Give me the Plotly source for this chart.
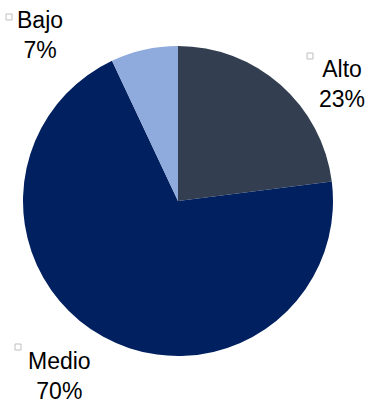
import plotly.graph_objects as go

labels = ["Alto", "Medio", "Bajo"]
values = [23, 70, 7]
colors = ["#333F50", "#002060", "#8FAADC"]

W, H = 366, 403
cx, cy, r = 178, 201, 155

fig = go.Figure(go.Pie(
    labels=labels, values=values, sort=False, direction="clockwise", rotation=0,
    marker=dict(colors=colors, line=dict(width=0)),
    textinfo="none", hoverinfo="label+percent",
    domain=dict(x=[(cx - r) / W, (cx + r) / W], y=[(H - cy - r) / H, (H - cy + r) / H]),
    showlegend=False,
))

# label block centers in pixels
label_pos = {"Bajo": (40, 35), "Alto": (342, 84), "Medio": (60, 376)}
marker_pos = {"Bajo": (9, 17), "Alto": (310, 56), "Medio": (18, 347)}
total = sum(values)
font = dict(family="Liberation Sans, Arial", size=23, color="#000000")
for lab, val in zip(labels, values):
    x, y = label_pos[lab]
    fig.add_annotation(x=x / W, y=1 - y / H, xref="paper", yref="paper",
                       text=f"{lab}<br>{round(val / total * 100)}%", showarrow=False,
                       font=font, align="center", borderpad=0,
                       xanchor="center", yanchor="middle")
    mx, my = marker_pos[lab]
    fig.add_shape(type="rect", xref="paper", yref="paper",
                  x0=(mx - 3) / W, x1=(mx + 3) / W, y0=1 - (my + 3) / H, y1=1 - (my - 3) / H,
                  line=dict(color="#BFBFBF", width=1), fillcolor="rgba(0,0,0,0)")

fig.update_layout(width=W, height=H, margin=dict(l=0, r=0, t=0, b=0),
                  paper_bgcolor="white", plot_bgcolor="white")
fig.write_html("out.html")
